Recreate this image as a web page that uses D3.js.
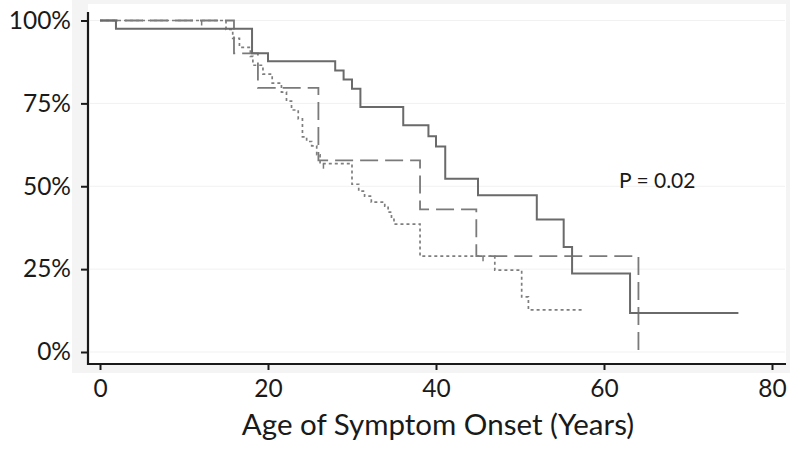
<!DOCTYPE html>
<html>
<head>
<meta charset="utf-8">
<script src="https://cdn.jsdelivr.net/npm/d3@7"></script>
<style>
  html, body { margin: 0; padding: 0; background: #fff; }
  svg { display: block; }
  text { font-family: Lato, "Open Sans", sans-serif; fill: #1a1a1a; }
</style>
</head>
<body>
<svg id="chart" width="800" height="451"></svg>
<script>
// ---- data ----
const xTicks = [0, 20, 40, 60, 80];
const yTicks = [0, 25, 50, 75, 100];
const xTitle = "Age of Symptom Onset (Years)";
const pLabel = "P = 0.02";

// Kaplan–Meier curves: [age, % event-free]
const solidTimes  = [0, 1.9, 18.1, 20.0, 28.0, 29.0, 30.0, 31.0, 36.1, 39.1, 40.0, 41.1, 45.0, 52.0, 55.2, 56.2, 63.1, 76.0];
const solidValues = [100, 97.5, 90.1, 87.7, 84.9, 82.2, 79.4, 73.9, 68.4, 65.1, 62.0, 52.3, 47.3, 40.0, 31.7, 23.7, 11.8, 11.8];

const dashedTimes  = [0, 15.95, 18.8, 26.0, 38.1, 44.8, 64.1];
const dashedValues = [100, 90.1, 79.7, 57.8, 43.0, 28.9, 0];
const dashedCensor = [12.1];

const dottedTimes  = [0, 15.0, 15.8, 16.6, 17.9, 18.2, 19.4, 20.5, 21.6, 22.2, 22.8, 23.6, 24.1, 24.6, 25.2, 25.8, 26.2, 30.0, 30.8, 31.5, 32.3, 33.9, 34.3, 34.7, 35.0, 38.1, 47.0, 50.2, 51.0, 57.5];
const dottedValues = [100, 97.3, 94.6, 91.9, 89.2, 86.5, 83.8, 81.1, 78.4, 75.7, 73.0, 70.3, 64.9, 63.5, 62.2, 59.5, 56.8, 50.6, 48.5, 47.0, 45.2, 44.0, 42.2, 40.0, 38.6, 28.9, 24.7, 16.6, 12.7, 12.7];
const dottedCensor = [26.6, 45.6];

// ---- layout ----
const svg = d3.select("#chart");
const x = d3.scaleLinear().domain([0, 80]).range([100, 772]);
const y = d3.scaleLinear().domain([0, 100]).range([352, 20.5]);
const axisX0 = 88, axisY0 = 364;

// graph region + plot region backgrounds
svg.append("rect").attr("x", 72).attr("y", 0).attr("width", 718).attr("height", 373).attr("fill", "#f4f4f4");
svg.append("rect").attr("x", axisX0).attr("y", 4).attr("width", 698).attr("height", axisY0 - 4).attr("fill", "#ffffff");

// faint gridlines
svg.append("g").selectAll("line").data(yTicks).join("line")
  .attr("x1", axisX0 + 2).attr("x2", 785)
  .attr("y1", d => y(d)).attr("y2", d => y(d))
  .attr("stroke", "#f1f1f1").attr("stroke-width", 1);

// curves
const line = d3.line().x(d => x(d[0])).y(d => y(d[1])).curve(d3.curveStepAfter);
const zip = (t, v) => t.map((d, i) => [d, v[i]]);
const stepValueAt = (t, v, a) => { let r = v[0]; t.forEach((d, i) => { if (d <= a) r = v[i]; }); return r; };

svg.append("path").datum(zip(dashedTimes, dashedValues)).attr("d", line)
  .attr("fill", "none").attr("stroke", "#7a7a7a").attr("stroke-width", 1.8)
  .attr("stroke-dasharray", "18,7");
svg.append("path").datum(zip(dottedTimes, dottedValues)).attr("d", line)
  .attr("fill", "none").attr("stroke", "#7e7e7e").attr("stroke-width", 1.7)
  .attr("stroke-dasharray", "3,3");
svg.append("path").datum(zip(solidTimes, solidValues)).attr("d", line)
  .attr("fill", "none").attr("stroke", "#6a6a6a").attr("stroke-width", 2);

// censor marks
const censor = (times, tv, vv) => svg.append("g").selectAll("line").data(times).join("line")
  .attr("x1", d => x(d)).attr("x2", d => x(d))
  .attr("y1", d => y(stepValueAt(tv, vv, d)))
  .attr("y2", d => y(stepValueAt(tv, vv, d)) + 5)
  .attr("stroke", "#7a7a7a").attr("stroke-width", 1.5);
censor(dashedCensor, dashedTimes, dashedValues);
censor(dottedCensor, dottedTimes, dottedValues);

// axes
const gy = svg.append("g").attr("transform", `translate(${axisX0},0)`)
  .call(d3.axisLeft(y).tickValues(yTicks).tickFormat(d => d + "%").tickSize(7).tickPadding(10).tickSizeOuter(0));
gy.select(".domain").remove();
gy.selectAll(".tick line").attr("stroke", "#1a1a1a").attr("stroke-width", 2);
gy.selectAll(".tick text").style("font-size", "24.5px").attr("fill", "#1a1a1a");

const gx = svg.append("g").attr("transform", `translate(0,${axisY0})`)
  .call(d3.axisBottom(x).tickValues(xTicks).tickSize(6).tickPadding(10).tickSizeOuter(0));
gx.select(".domain").remove();
gx.selectAll(".tick line").attr("stroke", "#1a1a1a").attr("stroke-width", 2);
gx.selectAll(".tick text").style("font-size", "24.5px").attr("fill", "#1a1a1a");

// axis lines
svg.append("line").attr("x1", axisX0).attr("x2", axisX0).attr("y1", 12).attr("y2", axisY0 + 1)
  .attr("stroke", "#1a1a1a").attr("stroke-width", 2.2);
svg.append("line").attr("x1", axisX0 - 1).attr("x2", 786).attr("y1", axisY0).attr("y2", axisY0)
  .attr("stroke", "#1a1a1a").attr("stroke-width", 2.2);

// texts
svg.append("text").attr("x", 438).attr("y", 435).attr("text-anchor", "middle")
  .style("font-size", "29.5px").text(xTitle);
svg.append("text").attr("x", 619).attr("y", 188).style("font-size", "21px").text(pLabel);
</script>
</body>
</html>
